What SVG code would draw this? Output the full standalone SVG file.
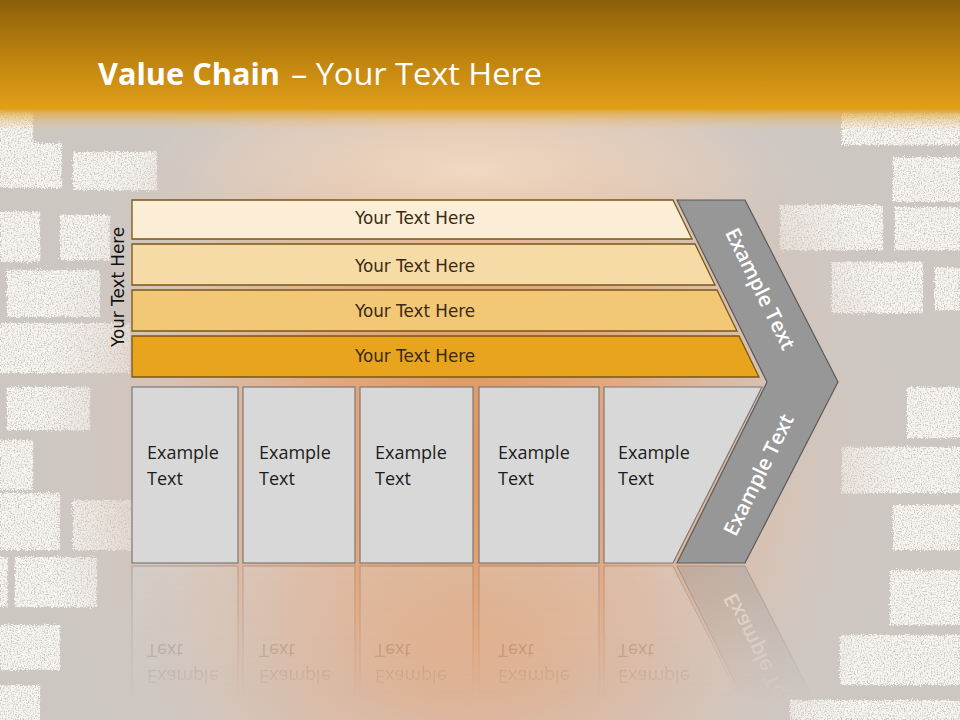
<svg xmlns="http://www.w3.org/2000/svg" xmlns:xlink="http://www.w3.org/1999/xlink" width="960" height="720" viewBox="0 0 960 720">
<defs>
<style>
.bar{stroke:#7a5716;stroke-width:1.3}
.bt{font-family:"DejaVu Sans",Verdana,sans-serif;font-size:16.8px;fill:#3a2a14;text-anchor:middle}
.box{fill:#d8d8d8;stroke:#7d7875;stroke-width:1.2}
.ex{font-family:"Open Sans","Liberation Sans",sans-serif;font-size:18px;fill:#1c1c1c}
.chev{fill:#979797;stroke:#5a5a5a;stroke-width:1.2}
.ct{font-family:"Open Sans","Liberation Sans",sans-serif;font-size:20.5px;font-weight:600;fill:#ffffff;text-anchor:middle}
.brick{fill:#f8f6f1}
.title{font-family:"Open Sans","Liberation Sans",sans-serif;font-size:31px;fill:#ffffff}
</style>
<linearGradient id="titleGrad" x1="0" y1="0" x2="0" y2="1">
<stop offset="0" stop-color="#8a5f0a"/>
<stop offset="0.55" stop-color="#c0850f"/>
<stop offset="1" stop-color="#e29f19"/>
</linearGradient>
<linearGradient id="titleFade" x1="0" y1="0" x2="0" y2="1">
<stop offset="0" stop-color="#e2a020" stop-opacity="0.9"/>
<stop offset="1" stop-color="#e9c9a0" stop-opacity="0"/>
</linearGradient>
<radialGradient id="glow" gradientUnits="userSpaceOnUse" cx="470" cy="450" r="430" gradientTransform="translate(470 450) scale(1 1.15) translate(-470 -450)">
<stop offset="0" stop-color="#e0965a"/>
<stop offset="0.4" stop-color="#e2ab86"/>
<stop offset="0.75" stop-color="#d8c2b4" stop-opacity="0.7"/>
<stop offset="1" stop-color="#cfc9c4" stop-opacity="0"/>
</radialGradient>
<radialGradient id="topGlow" gradientUnits="userSpaceOnUse" cx="470" cy="170" r="330" gradientTransform="translate(470 170) scale(1 0.3) translate(-470 -170)">
<stop offset="0" stop-color="#f2dcc6" stop-opacity="0.9"/>
<stop offset="1" stop-color="#f2dcc6" stop-opacity="0"/>
</radialGradient>
<filter id="rough" x="-5%" y="-10%" width="110%" height="120%">
<feTurbulence type="fractalNoise" baseFrequency="0.7" numOctaves="3" seed="3" result="n"/>
<feDisplacementMap in="SourceGraphic" in2="n" scale="6" xChannelSelector="R" yChannelSelector="G" result="d"/>
<feColorMatrix in="n" type="matrix" values="0 0 0 0 1  0 0 0 0 1  0 0 0 0 1  3.2 0 0 0 -0.75" result="a"/>
<feComposite in="d" in2="a" operator="in"/>
</filter>
<linearGradient id="fadeGrad" gradientUnits="userSpaceOnUse" x1="0" y1="565" x2="0" y2="700">
<stop offset="0" stop-color="#ffffff" stop-opacity="0.38"/>
<stop offset="1" stop-color="#ffffff" stop-opacity="0"/>
</linearGradient>
<mask id="fade" maskUnits="userSpaceOnUse" x="0" y="560" width="960" height="160">
<rect x="0" y="565" width="960" height="160" fill="url(#fadeGrad)"/>
</mask>
</defs>

<!-- background -->
<rect width="960" height="720" fill="#cdc7c2"/>
<g id="bricks" filter="url(#rough)">
<rect class="brick" x="0" y="112" width="33" height="32"/>
<rect class="brick" x="0" y="143" width="62" height="45"/>
<rect class="brick" x="73" y="152" width="84" height="38"/>
<rect class="brick" x="0" y="212" width="40" height="50"/>
<rect class="brick" x="60" y="215" width="50" height="45"/>
<rect class="brick" x="7" y="270" width="93" height="47"/>
<rect class="brick" x="0" y="323" width="130" height="50"/>
<rect class="brick" x="7" y="387" width="83" height="43"/>
<rect class="brick" x="0" y="440" width="33" height="50"/>
<rect class="brick" x="0" y="493" width="60" height="57"/>
<rect class="brick" x="73" y="500" width="84" height="50"/>
<rect class="brick" x="0" y="557" width="8" height="50"/>
<rect class="brick" x="15" y="557" width="82" height="50"/>
<rect class="brick" x="0" y="625" width="60" height="45"/>
<rect class="brick" x="0" y="685" width="40" height="35"/>
<rect class="brick" x="842" y="113" width="118" height="32"/>
<rect class="brick" x="893" y="157" width="67" height="45"/>
<rect class="brick" x="780" y="205" width="103" height="45"/>
<rect class="brick" x="895" y="207" width="65" height="43"/>
<rect class="brick" x="832" y="262" width="91" height="51"/>
<rect class="brick" x="935" y="267" width="25" height="43"/>
<rect class="brick" x="907" y="387" width="53" height="51"/>
<rect class="brick" x="842" y="447" width="118" height="46"/>
<rect class="brick" x="893" y="505" width="67" height="45"/>
<rect class="brick" x="890" y="570" width="70" height="55"/>
<rect class="brick" x="840" y="635" width="120" height="50"/>
<rect class="brick" x="790" y="700" width="170" height="20"/>
</g>
<rect width="960" height="720" fill="url(#glow)"/>
<rect x="0" y="100" width="960" height="200" fill="url(#topGlow)"/>

<!-- title band -->
<rect x="0" y="0" width="960" height="110" fill="url(#titleGrad)"/>
<rect x="0" y="109" width="960" height="22" fill="url(#titleFade)"/>
<g id="title">
<text class="title" x="98" y="85" font-weight="700" textLength="182" lengthAdjust="spacingAndGlyphs">Value Chain</text>
<text class="title" x="291" y="85" textLength="251" lengthAdjust="spacingAndGlyphs">– Your Text Here</text>
</g>

<!-- side label -->
<g id="sideLabel">
<text class="bt" transform="translate(124 287) rotate(-90)" style="fill:#111">Your Text Here</text>
</g>

<!-- bars -->
<g id="bar1"><polygon class="bar" fill="#fbedd6" points="132,200 673,200 692,239 132,239"/><text class="bt" x="415" y="224">Your Text Here</text></g>
<g id="bar2"><polygon class="bar" fill="#f6dba6" points="132,244 695,244 715,285 132,285"/><text class="bt" x="415" y="272">Your Text Here</text></g>
<g id="bar3"><polygon class="bar" fill="#f2c776" points="132,290 717,290 737,331 132,331"/><text class="bt" x="415" y="317">Your Text Here</text></g>
<g id="bar4"><polygon class="bar" fill="#e8a41c" points="132,336 739,336 759,377 132,377"/><text class="bt" x="415" y="362">Your Text Here</text></g>

<!-- chevron -->
<g id="chevron">
<polygon class="chev" points="677,200 745,200 838,382 745,563 677,563 767,382"/>
<text class="ct" transform="translate(754 292) rotate(63.9)">Example Text</text>
<g id="chevLower"><text class="ct" transform="translate(765 478) rotate(-63.8)">Example Text</text></g>
</g>

<!-- boxes -->
<g id="boxes">
<g id="box1"><rect class="box" x="132" y="387" width="106" height="176"/><text class="ex" x="147" y="459">Example</text><text class="ex" x="147" y="485">Text</text></g>
<g id="box2"><rect class="box" x="243" y="387" width="112" height="176"/><text class="ex" x="259" y="459">Example</text><text class="ex" x="259" y="485">Text</text></g>
<g id="box3"><rect class="box" x="360" y="387" width="113" height="176"/><text class="ex" x="375" y="459">Example</text><text class="ex" x="375" y="485">Text</text></g>
<g id="box4"><rect class="box" x="479" y="387" width="120" height="176"/><text class="ex" x="498" y="459">Example</text><text class="ex" x="498" y="485">Text</text></g>
<g id="box5"><polygon class="box" points="604,387 762,387 673,563 604,563"/><text class="ex" x="618" y="459">Example</text><text class="ex" x="618" y="485">Text</text></g>
</g>

<!-- reflection -->
<g id="reflection" mask="url(#fade)">
<g transform="matrix(1 0 0 -1 0 1129)">
<use xlink:href="#boxes" href="#boxes"/>
<polygon class="chev" points="767,382 838,382 745,563 677,563"/>
<use xlink:href="#chevLower" href="#chevLower"/>
</g>
</g>
</svg>
